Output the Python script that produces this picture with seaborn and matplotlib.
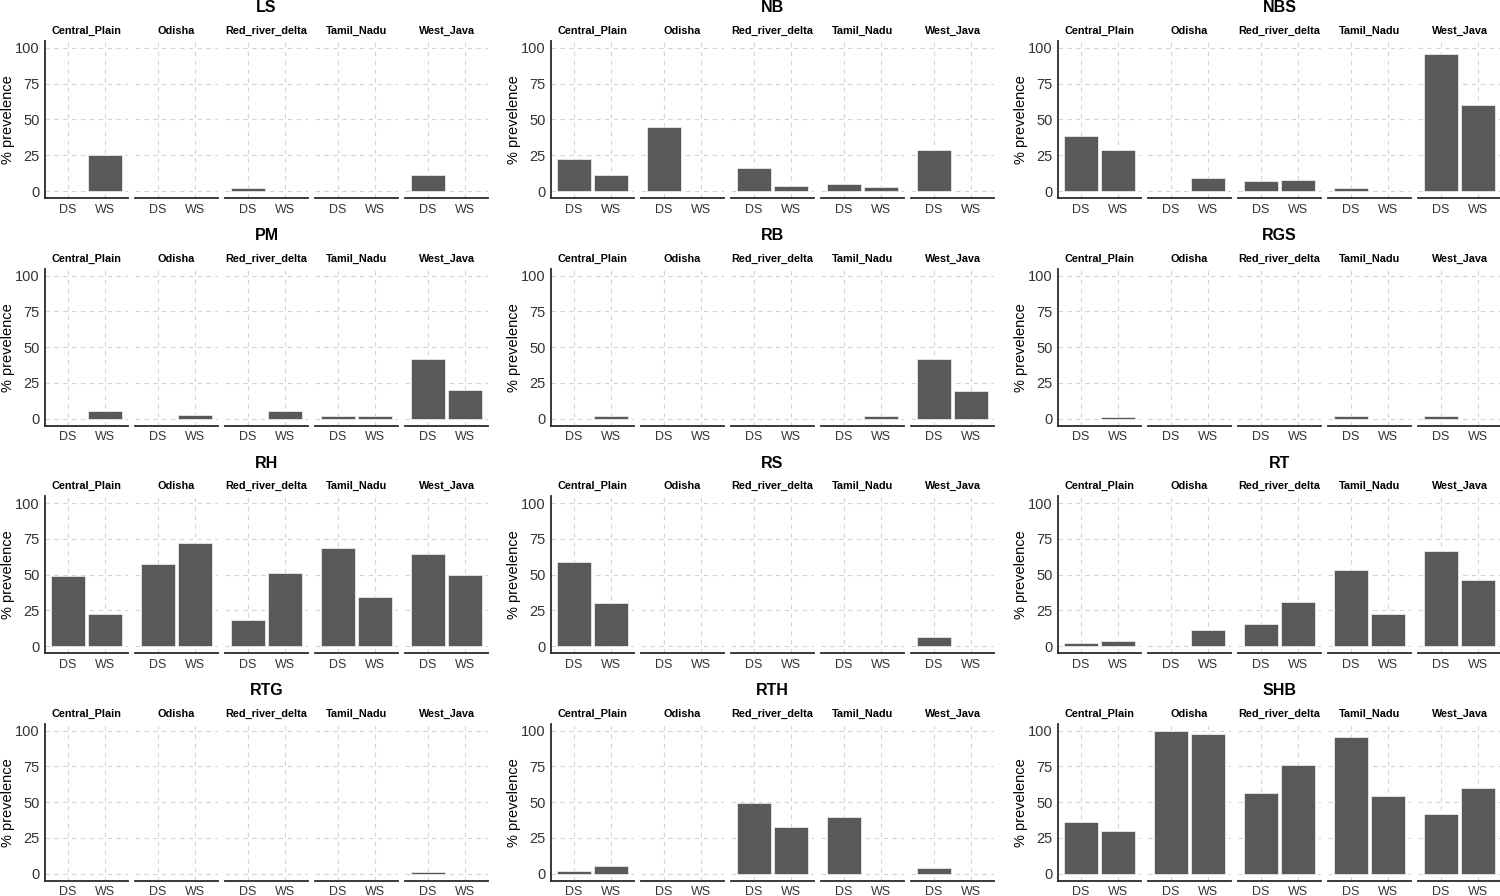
import pandas as pd
import seaborn as sns
import matplotlib.pyplot as plt

regions = ["Central_Plain", "Odisha", "Red_river_delta", "Tamil_Nadu", "West_Java"]
seasons = ["DS", "WS"]
diseases = ["LS", "NB", "NBS", "PM", "RB", "RGS", "RH", "RS", "RT", "RTG", "RTH", "SHB"]

# % prevalence per region, in order DS, WS
ls = [0, 25, 0, 0, 2.3, 0, 0, 0, 11.4, 0]
nb = [22.3, 11.4, 44.7, 0, 15.8, 3.7, 4.7, 2.6, 28.8, 0]
nbs = [38.8, 28.4, 0, 9.3, 7.0, 7.4, 2.3, 0, 95.6, 60.0]
pm = [0, 5.6, 0, 2.3, 0, 5.4, 2.1, 2.1, 42.0, 19.8]
rb = [0, 1.6, 0, 0, 0, 0, 0, 2.1, 41.8, 19.6]
rgs = [0, 1.4, 0, 0, 0, 0, 1.6, 0, 1.6, 0]
rh = [49.0, 22.6, 57.8, 72.0, 18.2, 51.0, 68.8, 34.3, 64.3, 50.1]
rs = [59.2, 30.1, 0, 0, 0, 0, 0, 0, 6.8, 0]
rt = [2.1, 3.7, 0, 11.6, 15.8, 30.7, 53.0, 22.6, 66.5, 46.5]
rtg = [0, 0, 0, 0, 0, 0, 0, 0, 1.4, 0]
rth = [1.6, 5.1, 0, 0, 49.5, 32.5, 39.7, 0, 4.0, 0]
shb = [36.2, 29.9, 99.8, 97.4, 56.5, 75.9, 95.3, 54.2, 41.6, 59.6]

all_vals = [ls, nb, nbs, pm, rb, rgs, rh, rs, rt, rtg, rth, shb]
rows = []
for d, vals in zip(diseases, all_vals):
    for k, v in enumerate(vals):
        rows.append({"disease": d, "region": regions[k // 2], "season": seasons[k % 2], "prev": v})
df = pd.DataFrame(rows)

sns.set_theme(style="white")
plt.rcParams['font.family'] = ['Liberation Sans', 'DejaVu Sans']

W, H = 1500, 896
fig = plt.figure(figsize=(15, 8.96), dpi=100)
fig.patch.set_facecolor("white")

col_left = [45, 551, 1058]
row_top = [40.8, 268.5, 496, 723.5]
facet_w, gap, panel_h = 83, 7, 157.4
bar_col = "#595959"

for i, d in enumerate(diseases):
    r, c = divmod(i, 3)
    for j, reg in enumerate(regions):
        x0 = col_left[c] + j * (facet_w + gap)
        ax = fig.add_axes([x0 / W, 1 - (row_top[r] + panel_h) / H, facet_w / W, panel_h / H])
        sub = df[(df.disease == d) & (df.region == reg)]
        sns.barplot(data=sub, x="season", y="prev", order=seasons, color=bar_col,
                    width=0.9, saturation=1, errorbar=None,
                    edgecolor="#e8e8e8", linewidth=0.6, ax=ax)
        for p in ax.patches:
            if p.get_height() == 0:
                p.set_linewidth(0)
        ax.set_xlim(-0.6, 1.6)
        ax.set_ylim(-5, 105)
        ax.set_yticks([0, 25, 50, 75, 100])
        ax.set_axisbelow(True)
        ax.grid(True, linestyle=(0, (4, 4)), color="#d4d4d4", linewidth=0.8)
        ax.set_xlabel("")
        ax.set_ylabel("")
        ax.set_title(reg, fontsize=7.8, fontweight="bold", pad=5, color="black")
        for s in ["top", "right"]:
            ax.spines[s].set_visible(False)
        ax.spines["bottom"].set_color("#2a2a2a")
        ax.spines["bottom"].set_linewidth(1.3)
        ax.tick_params(axis="x", length=0, labelsize=9, colors="#333333", pad=4)
        if j == 0:
            ax.spines["left"].set_color("#2a2a2a")
            ax.spines["left"].set_linewidth(1.3)
            ax.tick_params(axis="y", length=0, labelsize=10.5, colors="#333333", pad=4)
        else:
            ax.spines["left"].set_visible(False)
            ax.tick_params(axis="y", length=0, labelleft=False)

    # panel title and y label
    cx = col_left[c] + (5 * facet_w + 4 * gap) / 2
    fig.text(cx / W, 1 - (row_top[r] - 33) / H, d, ha="center", va="center",
             fontsize=11.5, fontweight="bold", color="black")
    ly = row_top[r] + panel_h / 2
    fig.text((col_left[c] - 37) / W, 1 - ly / H, "% prevelence", rotation=90,
             ha="center", va="center", fontsize=10.5, color="black")

fig.savefig("out.png", dpi=100, facecolor="white")
